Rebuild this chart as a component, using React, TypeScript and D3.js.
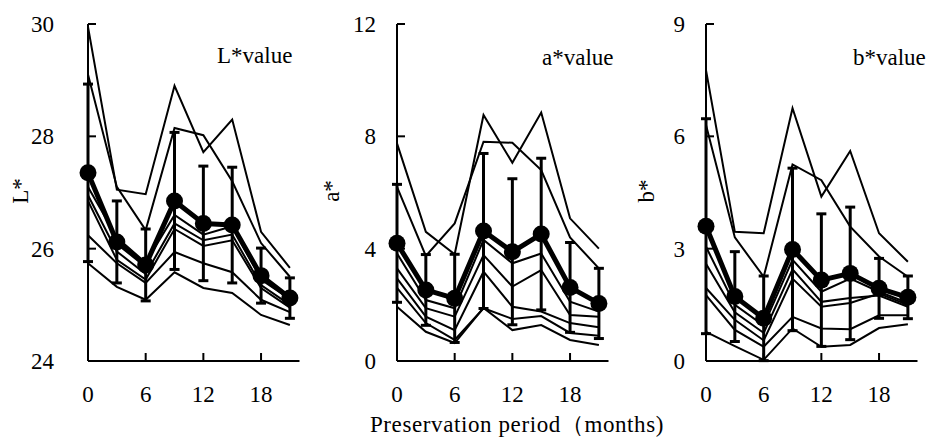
import React from 'react';
import * as d3 from 'd3';

// ---- data ----
const MONTHS = [0, 3, 6, 9, 12, 15, 18, 21];
const X_TICKS = [0, 6, 12, 18];

const L_TICKS = [24, 26, 28, 30];
const L_MEAN = [27.35, 26.12, 25.71, 26.85, 26.45, 26.42, 25.52, 25.12];
const L_SD = [1.58, 0.73, 0.64, 1.22, 1.02, 1.03, 0.49, 0.36];
const L_SAMPLES = [
  [29.95, 27.05, 26.97, 28.9, 27.72, 28.3, 26.3, 25.66],
  [29.1, 27.1, 26.33, 28.15, 28.02, 27.2, 26.1, 25.5],
  [27.1, 26.2, 25.75, 26.6, 26.25, 26.4, 25.45, 25.1],
  [26.95, 25.95, 25.55, 26.45, 26.15, 26.25, 25.35, 25.0],
  [26.85, 25.8, 25.45, 26.35, 26.05, 26.15, 25.3, 24.95],
  [26.24, 25.74, 25.39, 25.94, 25.74, 25.58, 25.09, 24.87],
  [25.74, 25.32, 25.09, 25.58, 25.3, 25.21, 24.82, 24.64],
];

const A_TICKS = [0, 4, 8, 12];
const A_MEAN = [4.19, 2.53, 2.23, 4.63, 3.89, 4.52, 2.62, 2.05];
const A_SD = [2.1, 1.26, 1.57, 2.76, 2.6, 2.7, 1.6, 1.25];
const A_SAMPLES = [
  [7.75, 4.6, 3.8, 8.76, 7.06, 8.85, 5.08, 4.0],
  [6.2, 3.74, 4.9, 7.81, 7.77, 6.8, 4.4, 3.3],
  [3.83, 2.17, 1.88, 4.31, 3.48, 3.83, 2.11, 1.76],
  [3.3, 1.88, 1.58, 3.77, 2.65, 3.24, 1.64, 1.58],
  [2.94, 1.58, 1.1, 3.18, 1.93, 1.76, 1.35, 1.2],
  [2.6, 1.35, 0.75, 1.88, 1.5, 1.6, 1.0, 0.9],
  [1.93, 1.04, 0.64, 1.89, 1.1, 1.28, 0.75, 0.57],
];

const B_TICKS = [0, 3, 6, 9];
const B_MEAN = [3.6, 1.72, 1.14, 2.98, 2.16, 2.34, 1.94, 1.7];
const B_SD = [2.87, 1.2, 1.13, 2.17, 1.77, 1.77, 0.8, 0.57];
const B_SAMPLES = [
  [7.77, 3.45, 3.41, 6.75, 4.39, 5.61, 3.41, 2.65],
  [6.3, 3.3, 2.25, 5.25, 4.83, 3.59, 2.79, 2.25],
  [3.05, 1.5, 0.95, 2.7, 1.85, 2.2, 1.85, 1.55],
  [2.6, 1.3, 0.75, 2.45, 1.58, 1.68, 1.75, 1.45],
  [1.95, 1.1, 0.55, 2.2, 1.45, 1.55, 1.8, 1.5],
  [1.76, 0.83, 0.38, 1.18, 0.87, 0.85, 1.22, 1.22],
  [0.78, 0.4, 0.03, 0.87, 0.38, 0.43, 0.88, 0.98],
];

const X_TITLE = 'Preservation period（months)';

// ---- layout ----
const FONT = "'Liberation Serif', 'Times New Roman', Times, 'DejaVu Serif', serif";
const TOP = 24;
const BOTTOM = 361;
const TXT = { fontFamily: FONT, fontSize: '23px' };

const PANELS = [
  { x0: 88, ticks: L_TICKS, mean: L_MEAN, sd: L_SD, samples: L_SAMPLES, axisTitle: 'L*', valueLabel: 'L*value', labelEnd: 54, titleX: 28, valueX: 217, valueY: 63 },
  { x0: 397, ticks: A_TICKS, mean: A_MEAN, sd: A_SD, samples: A_SAMPLES, axisTitle: 'a*', valueLabel: 'a*value', labelEnd: 376, titleX: 339, valueX: 542, valueY: 65 },
  { x0: 706, ticks: B_TICKS, mean: B_MEAN, sd: B_SD, samples: B_SAMPLES, axisTitle: 'b*', valueLabel: 'b*value', labelEnd: 685, titleX: 654, valueX: 853, valueY: 65 },
];

function Panel({ p }: { p: any }) {
  const x = d3.scaleLinear().domain([0, 22]).range([p.x0, p.x0 + 211.5]);
  const y = d3
    .scaleLinear()
    .domain([p.ticks[0], p.ticks[p.ticks.length - 1]])
    .range([BOTTOM, TOP]);
  const line = d3
    .line<number>()
    .x((_, i) => x(MONTHS[i]))
    .y((d) => y(d));
  const cap = 5;
  return (
    <g>
      {p.samples.map((s: number[], k: number) => (
        <path key={k} d={line(s) || ''} fill="none" stroke="#000" strokeWidth={2} />
      ))}
      {p.mean.map((m: number, i: number) => {
        const cx = x(MONTHS[i]);
        const y1 = y(m + p.sd[i]);
        const y2 = y(m - p.sd[i]);
        return (
          <g key={i} stroke="#000" strokeWidth={3}>
            <line x1={cx} x2={cx} y1={y1} y2={y2} />
            <line x1={cx - cap} x2={cx + cap} y1={y1} y2={y1} />
            <line x1={cx - cap} x2={cx + cap} y1={y2} y2={y2} />
          </g>
        );
      })}
      <path d={line(p.mean) || ''} fill="none" stroke="#000" strokeWidth={5} strokeLinejoin="round" />
      {p.mean.map((m: number, i: number) => (
        <circle key={i} cx={x(MONTHS[i])} cy={y(m)} r={8.5} fill="#000" />
      ))}
      <line x1={x(0)} x2={x(0)} y1={TOP} y2={BOTTOM} stroke="#000" strokeWidth={2} />
      <line x1={x(0)} x2={x(22)} y1={BOTTOM} y2={BOTTOM} stroke="#000" strokeWidth={2} />
      {p.ticks.map((t: number) => (
        <g key={t}>
          {t !== p.ticks[0] && (
            <line x1={x(0)} x2={x(0) + 8} y1={y(t)} y2={y(t)} stroke="#000" strokeWidth={2} />
          )}
          <text x={p.labelEnd} y={y(t) + 8} textAnchor="end" style={TXT}>
            {t}
          </text>
        </g>
      ))}
      {X_TICKS.map((t) => (
        <g key={t}>
          {t !== 0 && (
            <line x1={x(t)} x2={x(t)} y1={BOTTOM} y2={BOTTOM - 8} stroke="#000" strokeWidth={2} />
          )}
          <text x={x(t)} y={402} textAnchor="middle" style={TXT}>
            {t}
          </text>
        </g>
      ))}
      <text transform={`translate(${p.titleX},${191}) rotate(-90)`} textAnchor="middle" style={TXT}>
        {p.axisTitle}
      </text>
      <text x={p.valueX} y={p.valueY} style={TXT}>
        {p.valueLabel}
      </text>
    </g>
  );
}

export default function App() {
  return (
    <svg
      width={928}
      height={437}
      viewBox="0 0 928 437"
      style={{ position: 'absolute', left: 0, top: 0, background: '#fff', fontFamily: FONT }}
    >
      <rect x={0} y={0} width={928} height={437} fill="#fff" />
      {PANELS.map((p, i) => (
        <Panel key={i} p={p} />
      ))}
      <text x={517} y={432} textAnchor="middle" style={{ ...TXT, letterSpacing: '0.6px' }}>
        {X_TITLE}
      </text>
    </svg>
  );
}
